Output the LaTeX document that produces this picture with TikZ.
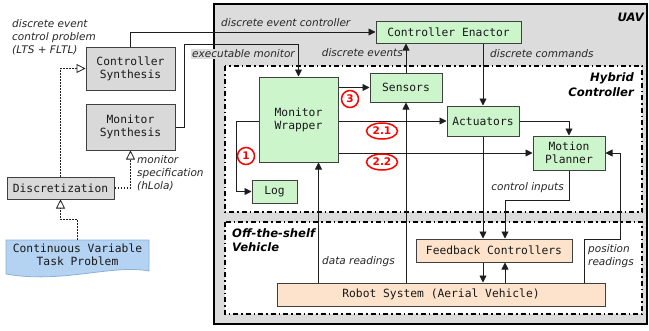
\documentclass[tikz,border=0pt]{standalone}
\usepackage{fontspec}
\setmainfont{DejaVu Sans}
\newfontfamily\monof{DejaVu Sans Mono}
\usetikzlibrary{arrows.meta,shapes.geometric}
\definecolor{uavgray}{HTML}{DCDCDC}
\definecolor{boxgray}{HTML}{D9D9D9}
\definecolor{greenfill}{HTML}{CCF5CC}
\definecolor{peachfill}{HTML}{FDE3CB}
\definecolor{bluefill}{HTML}{B4D2F2}
\definecolor{blueline}{HTML}{8DB0D8}
\definecolor{lineclr}{HTML}{1E1E1E}
\begin{document}
\begin{tikzpicture}[x=1pt,y=-1pt,
  box/.style={draw=black!75, line width=1pt, inner sep=0pt, align=center,
    font=\monof\fontsize{11.3}{13.2}\selectfont, text=black!90},
  graybox/.style={box, fill=boxgray},
  greenbox/.style={box, fill=greenfill},
  peachbox/.style={box, fill=peachfill},
  arr/.style={draw=lineclr, line width=0.9pt, -{Triangle[length=7pt,width=7pt]}},
  oarr/.style={draw=lineclr, line width=1.6pt, dash pattern=on 1.8pt off 1.2pt,
    -{Triangle[open,length=9pt,width=9pt,fill=white,line width=0.8pt]}},
  lab/.style={font=\fontsize{10.5}{13}\selectfont\itshape, inner sep=0pt, text=black!85},
  blab/.style={font=\fontsize{11.6}{14.5}\selectfont\bfseries\itshape, inner sep=0pt, text=black},
  region/.style={draw=black, fill=white, line width=1.6pt, dash pattern=on 5pt off 3pt on 1.5pt off 3pt},
  mk/.style={draw=red, line width=1.5pt, fill=white, text=red, inner sep=0pt,
    font=\fontsize{10.5}{12}\selectfont\bfseries}
]
\useasboundingbox (0,0) rectangle (649,330);

% UAV frame
\draw[line width=2pt, fill=uavgray] (214,4) rectangle (647,324);
\draw[region] (225,66) rectangle (642,212);
\draw[region] (225,222) rectangle (642,314);

% document shape
\draw[draw=blueline, fill=bluefill, line width=0.8pt] (6,240) -- (149,240) -- (149,271)
  .. controls (112,264) and (62,284) .. (6,274) -- cycle;

% nodes
\node[graybox, minimum width=89, minimum height=43] (cs) at (130.5,68.5) {Controller\\Synthesis};
\node[graybox, minimum width=89, minimum height=46] (ms) at (130.5,127) {Monitor\\Synthesis};
\node[graybox, minimum width=107, minimum height=22] (disc) at (60.5,188) {Discretization};
\node[box, draw=none, minimum width=143, minimum height=29] (cvtp) at (77.5,254.5) {Continuous Variable\\Task Problem};
\node[greenbox, minimum width=145, minimum height=22] (ce) at (448.5,32) {Controller Enactor};
\node[greenbox, minimum width=72, minimum height=29] (sen) at (406,87.5) {Sensors};
\node[greenbox, minimum width=79, minimum height=85] (mw) at (298.5,119.5) {Monitor\\Wrapper};
\node[greenbox, minimum width=72, minimum height=30] (act) at (483,121) {Actuators};
\node[greenbox, minimum width=72, minimum height=34] (mp) at (569,153) {Motion\\Planner};
\node[greenbox, minimum width=45, minimum height=23] (log) at (274.5,191.5) {Log};
\node[peachbox, minimum width=156, minimum height=23] (fc) at (494,250.5) {Feedback Controllers};
\node[peachbox, minimum width=328, minimum height=23] (rob) at (441,294.5) {Robot System (Aerial Vehicle)};

% helper coordinates
\coordinate (em) at (184,44);
\path ([xshift=-11pt]fc.south) coordinate (fcl) ([xshift=11pt]fc.south) coordinate (fcr)
      ([xshift=11pt]fc.north) coordinate (fcnr)
      ([xshift=20pt]mw.south) coordinate (mwd)
      ([xshift=143pt]rob.north) coordinate (robr)
      (620,239) coordinate (pr);

% connectors
\draw[arr] (cs.north) |- (ce.west);
\draw[arr] (ms.east) -| (em) -| (mw.north);
\draw[arr] (sen.north) -- (sen.north |- ce.south);
\draw[arr] (act.north |- ce.south) -- (act.north);
\draw[arr] (mw.east |- sen.west) -- (sen.west);
\draw[arr] (mw.east |- act.west) -- (act.west);
\draw[arr] (mw.east |- mp.west) -- (mp.west);
\draw[arr] (mw.west |- act.west) -- ++(-22,0) |- (log.west);
\draw[arr] (act.east) -| (mp.north);
\draw[arr] (act.south) -- (act.south |- fc.north);
\draw[arr] (mp.south) -- ++(0,30) -| (fcnr);
\draw[arr] (fcl) -- (fcl |- rob.north);
\draw[arr] (fcr |- rob.north) -- (fcr);
\draw[arr] (robr) |- (pr) |- (mp.east);
\draw[arr] (mwd |- rob.north) -- (mwd);
\draw[arr] (sen.south |- rob.north) -- (sen.south);

% dotted open arrows
\draw[oarr] (disc.north) |- (cs.west);
\draw[oarr] (disc.east) -| (ms.south);
\draw[oarr] (cvtp.north) -- ++(0,-20) -| (disc.south);

% labels
\node[lab, anchor=west] (l1) at (221,23) {discrete event controller};
\node[lab, anchor=west, fill=uavgray, inner sep=1pt] (l2) at (191,54) {executable monitor};
\node[lab, anchor=east] (l3) at (403,53) {discrete events};
\node[lab, anchor=west] (l4) at (490,54) {discrete commands};
\node[lab, anchor=east] (l5) at (564,188) {control inputs};
\node[lab, anchor=west] (l6) at (322,262) {data readings};
\node[lab, anchor=west, align=left] (l7) at (588,256) {position\\readings};
\node[lab, anchor=west, align=left] (l8) at (12,37.5) {discrete event\\control problem\\(LTS + FLTL)};
\node[lab, anchor=west, align=left] (l9) at (137,173.5) {monitor\\specification\\(hLola)};

\node[blab, anchor=east] (t1) at (644,17) {UAV};
\node[blab, anchor=east, align=right] (t2) at (634,84.5) {Hybrid\\Controller};
\node[blab, anchor=west, align=left] (t3) at (232,240) {Off-the-shelf\\Vehicle};

% step markers
\node[mk, circle, minimum size=17] (m1) at (246,156) {1};
\node[mk, ellipse, minimum width=31, minimum height=16] (m21) at (382,131) {2.1};
\node[mk, ellipse, minimum width=31, minimum height=16] (m22) at (382,162) {2.2};
\node[mk, circle, minimum size=17] (m3) at (350,99) {3};
\end{tikzpicture}
\end{document}
